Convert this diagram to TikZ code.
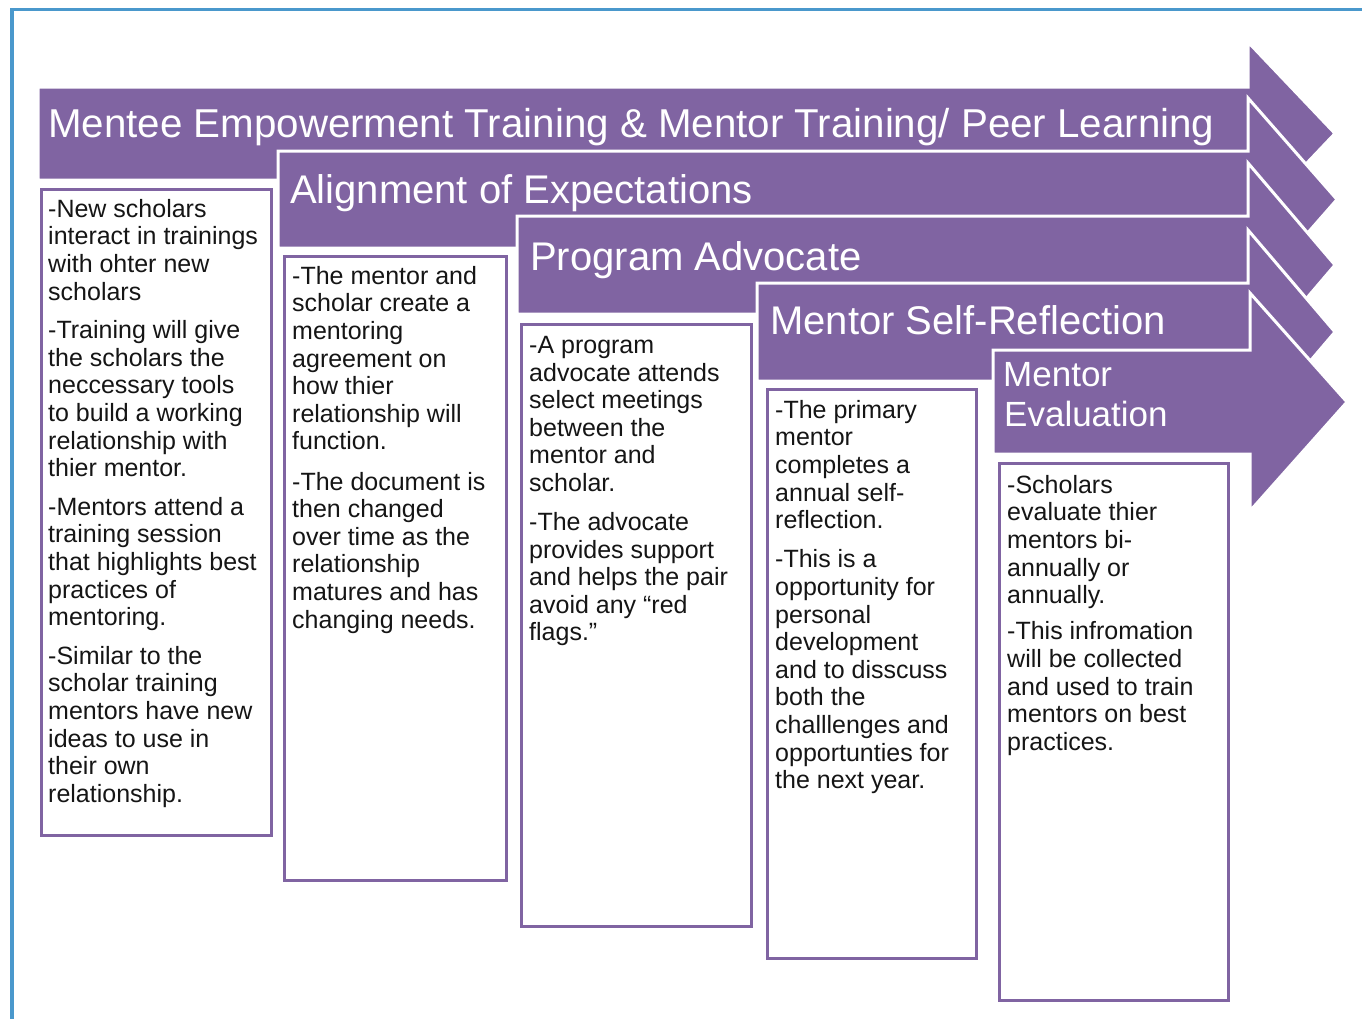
\documentclass[tikz,border=0pt]{standalone}
\usepackage{fontspec}
\setmainfont{Liberation Sans}
\definecolor{pur}{HTML}{8064A2}
\definecolor{lav}{HTML}{D6CBE4}
\definecolor{frameblue}{HTML}{4A98CC}
\definecolor{bodytext}{HTML}{151515}
\begin{document}
\begin{tikzpicture}[x=1pt,y=-1pt,
  arr/.style={fill=pur, draw=white, line width=3pt, line join=miter},
  ttl/.style={text=white, font=\fontsize{40}{44}\selectfont, anchor=base west, inner sep=0pt},
  ttlsmall/.style={text=white, font=\fontsize{35}{40}\selectfont, anchor=base west, inner sep=0pt},
  txtbox/.style={draw=pur, line width=3.5pt, fill=white, anchor=north west, inner sep=0pt, outer sep=0pt},
  body/.style={text=bodytext, font=\fontsize{25}{27.6}\selectfont, align=left, anchor=north west, inner sep=0pt}
]
\useasboundingbox (0,0) rectangle (1362,1018);
\fill[white] (0,0) rectangle (1362,1018);
% blue frame
\draw[frameblue, line width=3.5pt] (12,1030) -- (12,9.5) -- (1375,9.5);

% arrows
\draw[arr] (38,87) -- (1248,87) -- (1248,42) -- (1335,133.5) -- (1248,225) -- (1248,180) -- (38,180) -- cycle;
\draw[arr] (278,151) -- (1248,151) -- (1248,98) -- (1337,199.5) -- (1248,301) -- (1248,248) -- (278,248) -- cycle;
\draw[arr] (517,216) -- (1248,216) -- (1248,163) -- (1335,265) -- (1248,367) -- (1248,314) -- (517,314) -- cycle;
\draw[arr] (757,283) -- (1248,283) -- (1248,230) -- (1335,332) -- (1248,434) -- (1248,381) -- (757,381) -- cycle;
\draw[arr] (993,350) -- (1250,350) -- (1250,293) -- (1347,402) -- (1250,511) -- (1250,454) -- (993,454) -- cycle;

% titles
\node[ttl, font=\fontsize{40.3}{44}\selectfont] (t1) at (48,137) {Mentee Empowerment Training \& Mentor Training/ Peer Learning};
\node[ttl] (t2) at (290,203) {Alignment of Expectations};
\node[ttl] (t3) at (530,270) {Program Advocate};
\node[ttl] (t4) at (770,334) {Mentor Self-Reflection};
\node[ttlsmall] (t5a) at (1003,386) {Mentor};
\node[ttlsmall] (t5b) at (1004,426) {Evaluation};

% boxes
\node[txtbox, minimum width=230pt, minimum height=646pt] (b1) at (41.5,189.5) {};
\node[txtbox, minimum width=222pt, minimum height=624pt] (b2) at (284.5,256.5) {};
\node[txtbox, minimum width=230pt, minimum height=602pt] (b3) at (521.5,324.5) {};
\node[txtbox, minimum width=209pt, minimum height=569pt] (b4) at (767.5,389.5) {};
\node[txtbox, minimum width=229pt, minimum height=537pt] (b5) at (999.5,463.5) {};

% texts
\node[body] (x1) at (48,199) {-New scholars\\interact in trainings\\with ohter new\\scholars\\[11pt]
-Training will give\\the scholars the\\neccessary tools\\to build a working\\relationship with\\thier mentor.\\[11pt]
-Mentors attend a\\training session\\that highlights best\\practices of\\mentoring.\\[11pt]
-Similar to the\\scholar training\\mentors have new\\ideas to use in\\their own\\relationship.};

\node[body] (x2) at (292,266) {-The mentor and\\scholar create a\\mentoring\\agreement on\\how thier\\relationship will\\function.\\[12.5pt]
-The document is\\then changed\\over time as the\\relationship\\matures and has\\changing needs.};

\node[body] (x3) at (529,336) {-A program\\advocate attends\\select meetings\\between the\\mentor and\\scholar.\\[11.5pt]
-The advocate\\provides support\\and helps the pair\\avoid any “red\\flags.”};

\node[body] (x4) at (775,400) {-The primary\\mentor\\completes a\\annual self-\\reflection.\\[11.5pt]
-This is a\\opportunity for\\personal\\development\\and to disscuss\\both the\\challlenges and\\opportunties for\\the next year.};

\node[body] (x5) at (1007,475) {-Scholars\\evaluate thier\\mentors bi-\\annually or\\annually.\\[8.5pt]
-This infromation\\will be collected\\and used to train\\mentors on best\\practices.};
\end{tikzpicture}
\end{document}
